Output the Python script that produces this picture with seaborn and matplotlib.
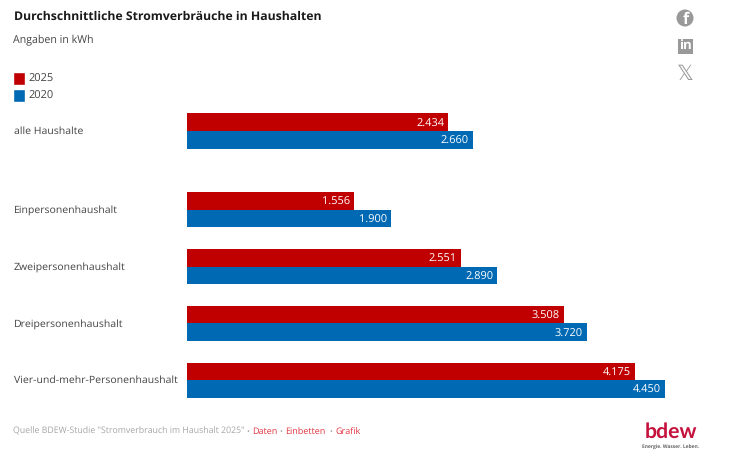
import matplotlib
matplotlib.use("Agg")
import matplotlib.pyplot as plt
from matplotlib.patches import Circle, Rectangle, Patch
from matplotlib.transforms import ScaledTranslation
import pandas as pd
import seaborn as sns

W, H = 750, 462

overall_category = ["alle Haushalte"]
overall_2025 = [2434]
overall_2020 = [2660]

size_categories = ["Einpersonenhaushalt", "Zweipersonenhaushalt", "Dreipersonenhaushalt",
                    "Vier-und-mehr-Personenhaushalt"]
size_2025 = [1556, 2551, 3508, 4175]
size_2020 = [1900, 2890, 3720, 4450]

year_labels = ["2025", "2020"]
year_colors = ["#c00000", "#0069b4"]

sns.set_theme(style="white")
plt.rcParams["font.family"] = ["Open Sans", "DejaVu Sans"]
plt.rcParams["text.hinting"] = "no_hinting"
plt.rcParams["text.hinting_factor"] = 8

fig = plt.figure(figsize=(W / 100, H / 100), dpi=100, facecolor="white")
palette = dict(zip(year_labels, year_colors))


def axes_px(x0, y0, x1, y1):
    return fig.add_axes([x0 / W, 1 - y1 / H, (x1 - x0) / W, (y1 - y0) / H])


def tidy(cats, v25, v20):
    return pd.DataFrame({
        "Haushalt": list(cats) * 2,
        "Jahr": [year_labels[0]] * len(cats) + [year_labels[1]] * len(cats),
        "kWh": list(v25) + list(v20),
    })


def draw_panel(ax, cats, v25, v20):
    sns.barplot(data=tidy(cats, v25, v20), y="Haushalt", x="kWh", hue="Jahr",
                hue_order=year_labels, palette=palette, width=0.62, gap=0,
                saturation=1, legend=False, ax=ax, linewidth=0, errorbar=None)
    ax.set_xlim(0, 5000)
    ax.set_xlabel("")
    ax.set_ylabel("")
    ax.set_xticks([])
    sns.despine(ax=ax, left=True, bottom=True, top=True, right=True)
    ax.patch.set_alpha(0)
    ax.tick_params(axis="y", length=0, pad=124.5)
    nudge = ScaledTranslation(0, 1 / 100, fig.dpi_scale_trans)
    for tick in ax.get_yticklabels():
        tick.set_ha("left")
        tick.set_va("center_baseline")
        tick.set_fontsize(7.55)
        tick.set_color("#444444")
        tick.set_transform(tick.get_transform() + nudge)
    for container in ax.containers:
        texts = ax.bar_label(container, fmt=lambda v: f"{v:,.0f}".replace(",", "."),
                             padding=-3, color="white", fontsize=7.9)
        for t in texts:
            t.set_ha("right")
            t.set_va("center_baseline")


# x axis spans 0-5000 kWh
x0_px = 186.5
x1_px = x0_px + 5000 * (665 - 186.5) / 4450

draw_panel(axes_px(x0_px, 102.5, x1_px, 159.5), overall_category, overall_2025, overall_2020)
draw_panel(axes_px(x0_px, 181.5, x1_px, 408.5), size_categories, size_2025, size_2020)

# Page furniture in pixel coordinates
page = fig.add_axes([0, 0, 1, 1], zorder=5)
page.set_xlim(0, W)
page.set_ylim(H, 0)
page.axis("off")
page.patch.set_alpha(0)

page.text(13.5, 16.5, "Durchschnittliche Stromverbräuche in Haushalten", fontsize=8.85,
          fontweight="bold", color="#1a1a1a", va="center", ha="left")
page.text(13, 40, "Angaben in kWh", fontsize=7.65, color="#444444", va="center", ha="left")

handles = [Patch(facecolor=c, label=l) for l, c in zip(year_labels, year_colors)]
legend = fig.legend(handles=handles, loc="upper left", bbox_to_anchor=(12.5 / W, 1 - 72 / H),
                    frameon=False, fontsize=7.9, handlelength=1.15, handleheight=1.5,
                    handletextpad=0.28, labelspacing=0.32, borderpad=0, borderaxespad=0,
                    labelcolor="#444444")

# Footer
grey = "#a6a6a6"
link = "#e2333f"
page.text(13, 431.5, 'Quelle BDEW-Studie "Stromverbrauch im Haushalt 2025"', fontsize=6.28,
          color=grey, va="center", ha="left")
for x in (248, 281, 331):
    page.text(x, 431.5, "•", fontsize=5.5, color=grey, va="center", ha="center")
for x, s in ((252.5, "Daten"), (285.5, "Einbetten"), (335.5, "Grafik")):
    page.text(x, 431.5, s, fontsize=6.5, color=link, va="center", ha="left")

# Share icons
icon = "#999999"
page.add_patch(Circle((685, 18), 8.5, facecolor=icon, edgecolor="none"))
page.text(685.5, 20, "f", fontsize=11.5, fontweight="bold", color="white", ha="center", va="center")
page.add_patch(Rectangle((677.5, 38.5), 15, 15, facecolor=icon, edgecolor="none"))
page.text(685, 46, "in", fontsize=9.5, fontweight="bold", color="white", ha="center", va="center")
page.text(685, 74, "𝕏", fontsize=15, color=icon, ha="center", va="center", family="DejaVu Sans")

# Logo
page.text(670.5, 432, "bdew", fontsize=15.3, fontweight="bold", family="Lato",
          color="#c5103c", ha="center", va="center")
page.text(670.5, 447.5, "Energie. Wasser. Leben.", fontsize=3.5, fontweight="bold",
          color="#666666", ha="center", va="center")

fig.savefig("out.png", dpi=100, facecolor="white")
